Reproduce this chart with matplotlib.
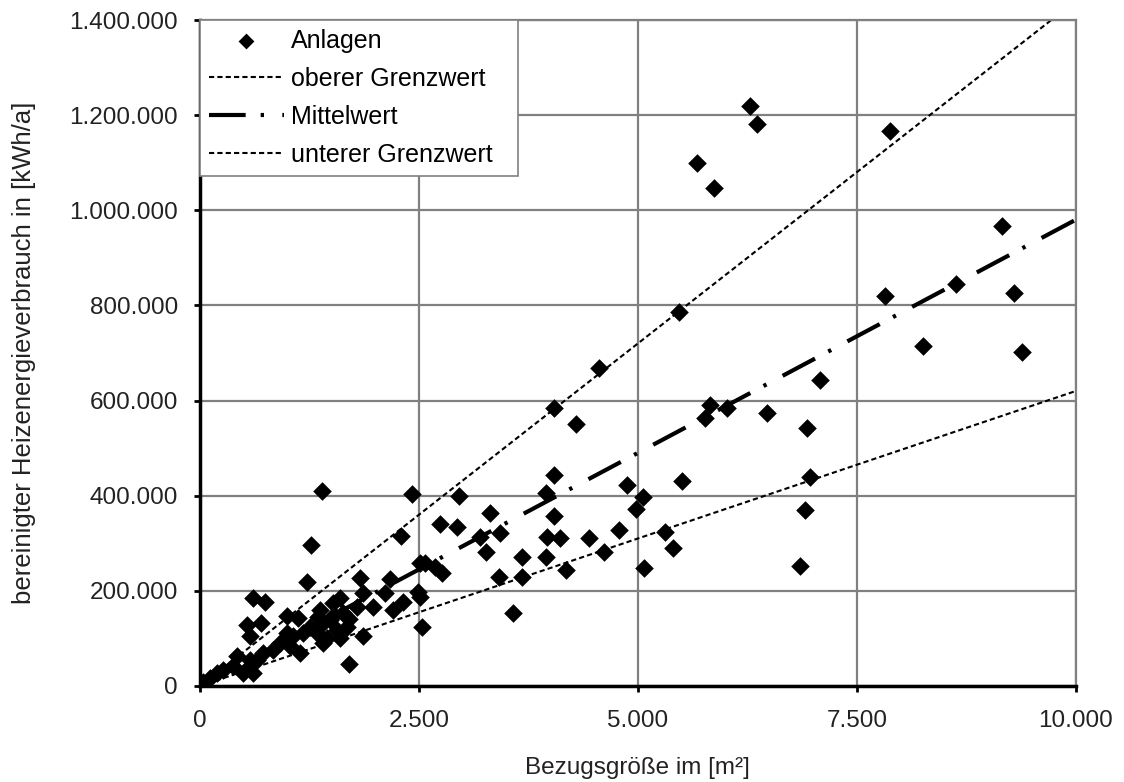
import matplotlib
matplotlib.use("Agg")
import matplotlib.pyplot as plt
from matplotlib.ticker import FuncFormatter
import numpy as np

plt.rcParams['font.family'] = ['Liberation Sans', 'DejaVu Sans']

# Anlagen: Bezugsgroesse [m2] / bereinigter Heizenergieverbrauch [kWh/a]
area = [6280, 6355, 7877, 5670, 5868, 9163, 9293, 8638, 7820, 8257, 9392,
        5472, 7078, 5822, 5765, 6013, 6470, 6937, 5499, 6964, 5061, 6907,
        5308, 5403, 5069, 6850, 4555, 4045, 4289, 4045, 4878, 3950, 4977,
        2960, 2740, 2937, 3311, 3425, 3196, 3261, 4045, 3958, 4110, 4444,
        4783, 3672, 3950, 4616, 4175, 3417, 3672, 3570, 2512, 2683, 2759,
        2512, 1389, 2417, 1264, 2291, 2570, 2492, 2531, 1225, 1826, 2169,
        2112, 2321, 2207, 1971, 1865, 1701, 609, 742, 533, 696, 571, 990,
        1122, 1865, 1370, 1522, 1636, 1408, 1560, 1408, 1674, 1332, 1484,
        1598, 1788, 1450, 1530, 1700, 1350, 1600, 1142, 1027, 913, 837, 723,
        647, 571, 419, 381, 266, 190, 114, 38, 495, 609, 571, 990, 1065,
        1180, 1256]
consumption = [1220000, 1181000, 1166000, 1100000, 1047000, 966000, 826000,
               845000, 819000, 714000, 702000, 786000, 643000, 591000, 563000,
               584000, 574000, 543000, 430000, 439000, 398000, 370000, 324000,
               290000, 249000, 252000, 668000, 584000, 551000, 444000, 423000,
               405000, 372000, 400000, 341000, 335000, 363000, 321000, 313000,
               282000, 357000, 314000, 311000, 312000, 328000, 272000, 272000,
               282000, 244000, 230000, 230000, 153000, 259000, 251000, 237000,
               188000, 409000, 404000, 297000, 316000, 259000, 198000, 125000,
               218000, 227000, 225000, 195000, 177000, 160000, 167000, 104000,
               46000, 184000, 177000, 128000, 132000, 104000, 147000, 142000,
               195000, 160000, 174000, 153000, 132000, 118000, 90000, 125000,
               111000, 139000, 184000, 167000, 100000, 150000, 140000, 145000,
               100000, 69000, 83000, 90000, 76000, 69000, 55000, 41000, 62000,
               41000, 34000, 27000, 16000, 9000, 27000, 27000, 55000, 111000,
               104000, 111000, 125000]

# Kennwerte [kWh/(m2 a)]
upper_limit = 144
mean_value = 98
lower_limit = 62

line_x = [0, 10000]

fig = plt.figure(figsize=(11.24, 7.82), dpi=100)
ax = fig.add_axes([0.178, 0.1228, 0.779, 0.8516])

ax.scatter(area, consumption, marker='D', s=90, color='black', zorder=3,
           linewidths=0, label='Anlagen')
ax.plot(line_x, [upper_limit * v for v in line_x], color='black', lw=1.5,
        dashes=(2.5, 1.5), zorder=2, label='oberer Grenzwert')
ax.plot(line_x, [mean_value * v for v in line_x], color='black', lw=3,
        dashes=(8.8, 3.6, 0.8, 4.4), zorder=2, label='Mittelwert')
ax.plot(line_x, [lower_limit * v for v in line_x], color='black', lw=1.5,
        dashes=(2.5, 1.5), zorder=2, label='unterer Grenzwert')

ax.set_xlim(0, 10000)
ax.set_ylim(0, 1400000)
ax.set_xticks(np.arange(0, 10001, 2500))
ax.set_yticks(np.arange(0, 1400001, 200000))

fmt = FuncFormatter(lambda v, p: f"{int(v):,}".replace(',', '.'))
ax.xaxis.set_major_formatter(fmt)
ax.yaxis.set_major_formatter(fmt)

ax.grid(True, color='#808080', lw=1.6)
ax.set_axisbelow(True)
for side in ['top', 'right']:
    ax.spines[side].set_color('#808080')
    ax.spines[side].set_linewidth(1.6)
for side in ['left', 'bottom']:
    ax.spines[side].set_color('black')
    ax.spines[side].set_linewidth(2.5)

ax.tick_params(axis='both', direction='out', length=4, width=2,
               colors='black', labelcolor='#222222', labelsize=17.5)
ax.tick_params(axis='y', pad=12)
ax.tick_params(axis='x', pad=13)

ax.set_xlabel('Bezugsgröße im [m²]', fontsize=17.5, color='#222222')
ax.set_ylabel('bereinigter Heizenergieverbrauch in [kWh/a]', fontsize=18.5,
              color='#222222')
ax.xaxis.set_label_coords(0.5, -0.107)
ax.yaxis.set_label_coords(-0.187, 0.5)

leg = ax.legend(loc='upper left', bbox_to_anchor=(0, 1, 0.363, 0),
                mode='expand', borderaxespad=0,
                fontsize=18, frameon=True, fancybox=False, handlelength=3.0,
                markerscale=0.85, labelspacing=0.56, borderpad=0.35,
                handletextpad=0.3)
leg.get_frame().set_edgecolor('#808080')
leg.get_frame().set_linewidth(1.2)
leg.get_frame().set_alpha(1)

fig.savefig('out.png', dpi=100)
